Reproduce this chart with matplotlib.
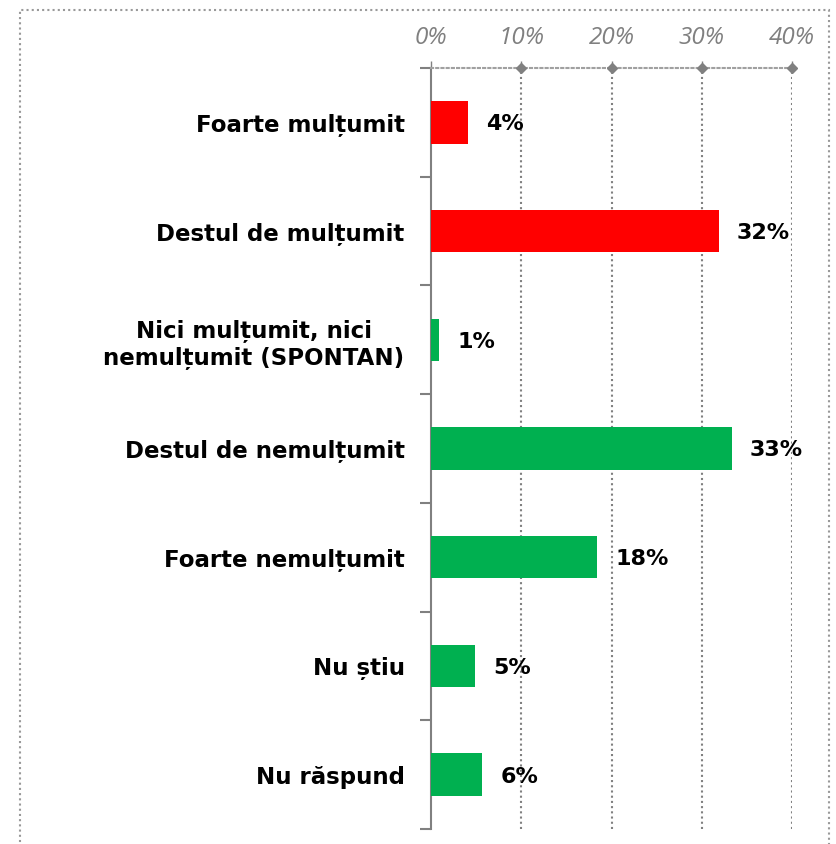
import numpy as np
import matplotlib.pyplot as plt
from matplotlib.patches import Rectangle

categories = ['Foarte mulțumit', 'Destul de mulțumit', 'Nici mulțumit, nici\nnemulțumit (SPONTAN)',
              'Destul de nemulțumit', 'Foarte nemulțumit', 'Nu știu', 'Nu răspund']
values = [4.1, 31.9, 0.9, 33.3, 18.4, 4.9, 5.7]
labels = ['4%', '32%', '1%', '33%', '18%', '5%', '6%']
colors = ['#FF0000', '#FF0000', '#00B050', '#00B050', '#00B050', '#00B050', '#00B050']
xticks = [0, 10, 20, 30, 40]

grey = '#808080'

fig = plt.figure(figsize=(8.36, 8.44), dpi=100)
ax = fig.add_axes([431 / 836, 1 - 829 / 844, 361 / 836, 761 / 844])

y = np.arange(len(categories))
ax.barh(y, values, height=0.39, color=colors, zorder=3)

for yi, v, lab in zip(y, values, labels):
    ax.annotate(lab, (v, yi), xytext=(13, 0), textcoords='offset points',
                ha='left', va='center_baseline', fontsize=16, fontweight='bold', color='black')

ax.set_xlim(0, 40)
ax.set_ylim(len(categories) - 0.5, -0.5)

# top axis
ax.xaxis.tick_top()
ax.set_xticks(xticks)
ax.set_xticklabels([f'{t}%' for t in xticks], fontsize=17.5, style='italic',
                   color=grey, family='Open Sans')
ax.tick_params(axis='x', direction='out', length=5, color=grey, pad=8, width=1)
for t in xticks[1:]:
    ax.axvline(t, color=grey, linestyle=(0, (1, 1.5)), linewidth=1.5, zorder=1)
ax.plot(xticks[1:], [-0.5] * 4, linestyle='none', marker='D', markersize=5,
        color=grey, clip_on=False, zorder=4)

# left axis
ax.set_yticks(y)
ax.set_yticklabels(categories, fontsize=16.5, fontweight='bold', family='DejaVu Sans',
                   multialignment='center')
ax.tick_params(axis='y', which='major', length=0, pad=19)
ax.set_yticks(np.arange(-0.5, len(categories)), minor=True)
ax.tick_params(axis='y', which='minor', length=8, color=grey, width=1.5, direction='out')

ax.spines['left'].set_color(grey)
ax.spines['left'].set_linewidth(1.5)
ax.spines['top'].set_color('#a0a0a0')
ax.spines['top'].set_linestyle((0, (1, 1.5)))
ax.spines['top'].set_linewidth(1.5)
ax.spines['right'].set_visible(False)
ax.spines['bottom'].set_visible(False)

# outer dotted frame
fig.patches.append(Rectangle((20 / 836, -0.05), 809 / 836, 1.05 - 10 / 844,
                             transform=fig.transFigure, fill=False, edgecolor='#999999',
                             linestyle=(0, (1, 1.5)), linewidth=1.5))

fig.savefig('out.png', dpi=100)
